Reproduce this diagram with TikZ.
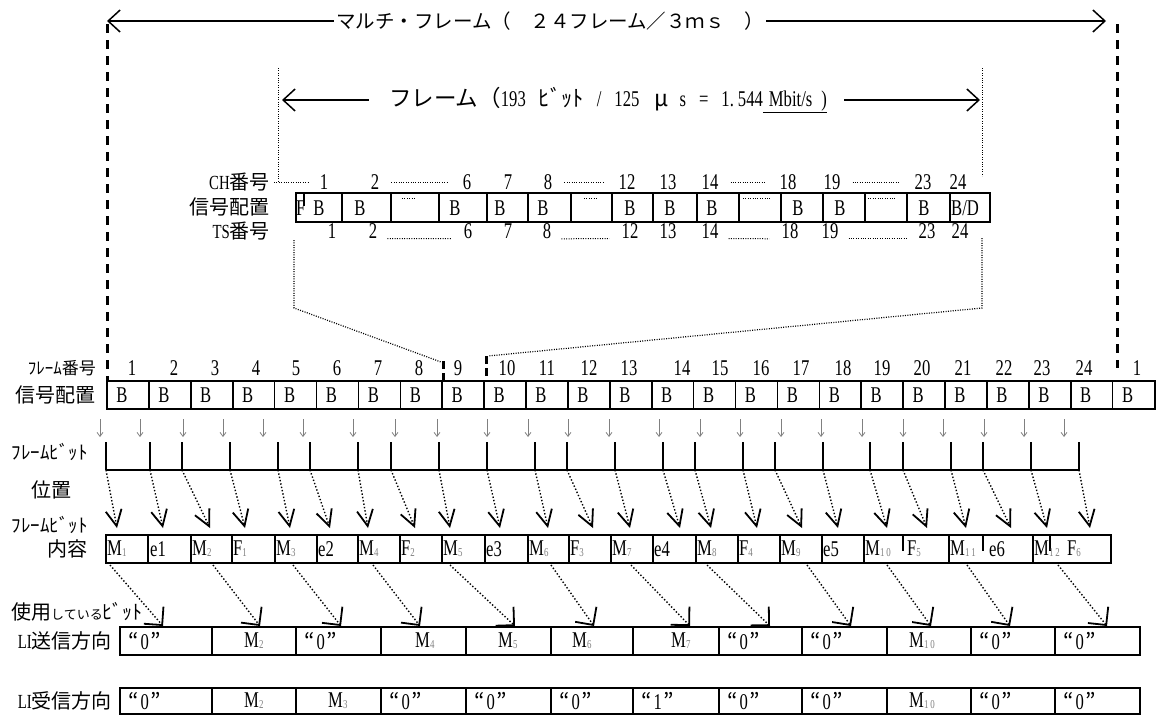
\documentclass[tikz,border=0pt]{standalone}
\usepackage{fontspec}
\setmainfont{Liberation Serif}[FakeStretch=0.74]
\newfontfamily\jp{Noto Sans CJK JP}
\usetikzlibrary{arrows.meta}
\tikzset{
  txt/.style     = {inner sep=0pt, font=\fontsize{22.5}{22.5}\selectfont},
  lab/.style     = {inner sep=0pt, font=\jp\fontsize{20}{20}\selectfont},
  sml/.style     = {inner sep=0pt, font=\jp\fontsize{17}{17}\selectfont},
  cell/.style    = {line width=1.6pt},
  fine/.style    = {line width=1pt, dash pattern=on 1pt off 1.4pt},
  bigdash/.style = {line width=3pt, dash pattern=on 9pt off 7pt},
  span/.style    = {line width=1.4pt},
  down/.style    = {gray, line width=0.8pt, -{Straight Barb[length=4pt,width=6pt]}},
  fbit/.style    = {line width=1.8pt},
  posarr/.style  = {line width=1.4pt, dash pattern=on 1.4pt off 2pt, -posV},
  usearr/.style  = {line width=1.4pt, dash pattern=on 1.4pt off 2pt, -useV},
  bigV/.tip      = {Straight Barb[length=12pt,width=22pt,line width=1.5pt]},
  posV/.tip      = {Straight Barb[length=16pt,width=16pt,line width=1.8pt]},
  useV/.tip      = {Straight Barb[length=13pt,width=26pt,line width=1.8pt]}
}
\newcommand\lo[1]{\raisebox{-1pt}{\textcolor{gray}{\fontsize{12}{12}\selectfont#1}}}
\newcommand\qz[1]{{\jp\fontsize{22}{22}\selectfont “}\hspace{2pt}#1\hspace{2pt}{\jp\fontsize{22}{22}\selectfont ”}}

\begin{document}
\begin{tikzpicture}[x=1pt, y=-1pt]
  \useasboundingbox (0,0) rectangle (1157,715);
  % multi-frame span
  \node[lab, font=\jp\fontsize{19.5}{19.5}\selectfont, inner xsep=2pt] (mf) at (550,21) {マルチ・フレーム（　２４フレーム／３ｍｓ　）};
  \coordinate (mfL) at (107,21); \coordinate (mfR) at (1106,21);
  \draw[span, -bigV] (mf.west) -- (mfL); \draw[span, -bigV] (mf.east) -- (mfR);
  \coordinate (dl0) at (107,24); \coordinate (dl1) at (107,381); \draw[bigdash] (dl0) -- (dl1);
  \coordinate (dr0) at (1117,24); \coordinate (dr1) at (1117,368); \draw[bigdash] (dr0) -- (dr1);
  % frame span
  \node[txt] (fr) at (608,100) {{\jp フレーム（}193\hspace{13pt}{\jp ﾋﾞｯﾄ}\hspace{13pt}/\hspace{13pt}125\hspace{15pt}{\jp μ}\hspace{11pt}s\hspace{13pt}=\hspace{13pt}1.\hspace{4pt}544\underline{\hspace{6pt}Mbit/s\hspace{9pt})}};
  \coordinate (frL) at (282,100); \coordinate (frR) at (980,100);
  \draw[span, -bigV, shorten <=20pt] (fr.west) -- (frL); \draw[span, -bigV, shorten <=17pt] (fr.east) -- (frR);
  \coordinate (ul0) at (278,68); \coordinate (ul1) at (278,182); \draw[fine] (ul0) -- (ul1);
  \coordinate (ur0) at (982,68); \coordinate (ur1) at (982,176); \draw[fine] (ur0) -- (ur1);

  % one frame: CH / signal / TS
  \node[lab, anchor=east] (chlab) at (270,182) {{\rmfamily CH}番号};
  \node[lab, anchor=east] (sglab) at (270,207) {信号配置};
  \node[lab, anchor=east] (tslab) at (270,231) {{\rmfamily TS}番号};
  \foreach \n/\x in {1/324,2/375,6/467,7/508,8/548,12/627,13/668,14/710,18/788,19/832,23/923,24/958}
    \node[txt] (ch\n) at (\x,182) {\n};
  \foreach \n/\x in {1/332,2/373,6/468,7/508,8/547,12/630,13/668,14/710,18/790,19/830,23/927,24/960}
    \node[txt] (ts\n) at (\x,231) {\n};
  \draw[fine, shorten <=-4pt, shorten >=12pt] (ul1) -- (ch1.west);
  \foreach \a/\b in {2/6,8/12,14/18,19/23}{
    \draw[fine, shorten <=12pt, shorten >=14pt] (ch\a.east) -- (ch\b.west);
    \draw[fine, shorten <=10pt, shorten >=12pt] (ts\a.south east) -- (ts\b.south west);
  }
  \draw[cell] (296,193) rectangle (990,222);
  \foreach \x in {342,391,439,487,528,571,612,653,697,739,781,823,865,907,950}
    \draw[cell] (\x,193) -- (\x,222);
  \draw[line width=2.4pt] (304,193) -- (304,206);
  \node[txt, anchor=west] (sF) at (296,208) {F};
  \foreach \x [count=\i] in {319,360,455,500,543,630,670,712,798,840,924}
    \node[txt] (sB\i) at (\x,208) {B};
  \node[txt, anchor=west] (sBD) at (951,208) {B/D};
  \foreach \a/\b in {402/416,584/598,743/770,868/895}
    \draw[fine] (\a,198) -- (\b,198);

  % dotted guides to the multi-frame
  \coordinate (la0) at (294,240); \coordinate (la1) at (294,308); \coordinate (la2) at (441,362);
  \coordinate (ra0) at (982,238); \coordinate (ra1) at (982,308); \coordinate (ra2) at (488,356);
  \draw[fine, line width=1.2pt] (la0) -- (la1) -- (la2);
  \draw[fine, line width=1.2pt] (ra0) -- (ra1) -- (ra2);
  \draw[bigdash, dash pattern=on 8pt off 4pt] (443,361) -- (443,381);
  \draw[bigdash, dash pattern=on 8pt off 4pt] (486,356) -- (486,381);

  % multi-frame row
  \node[sml, anchor=east] (fnlab) at (96,368) {ﾌﾚｰﾑ番号};
  \foreach \n/\x [count=\i] in {1/132,2/174,3/215,4/256,5/296,6/337,7/378,8/419,9/458,10/507,11/547,12/589,13/629,14/682,15/720,16/761,17/801,18/843,19/882,20/922,21/963,22/1004,23/1042,24/1084,1/1137}
    \node[txt] (fn\i) at (\x,368) {\n};
  \node[lab, anchor=east] (sg2lab) at (96,395) {信号配置};
  \draw[cell] (107,381) rectangle (1155,409);
  \foreach \k in {1,...,24}
    \draw[cell] ({107+41.9*\k},381) -- ({107+41.9*\k},409);
  \foreach \k in {0,...,24}
    \node[txt] (mB\k) at ({122+41.9*\k},395) {B};

  % frame bit position
  \node[sml, font=\jp\fontsize{19}{19}\selectfont, anchor=east] (fblab) at (88,452) {ﾌﾚｰﾑﾋﾞｯﾄ};
  \node[lab] (poslab) at (51,490) {位置};
  \foreach \x [count=\i] in {100,140,183,223,263,303,353,395,437,487,528,568,609,659,700,740,781,821,862,903,943,984,1024,1064}{
    \coordinate (da\i) at (\x,419); \coordinate (db\i) at (\x,437);
    \draw[down] (da\i) -- (db\i);
  }
  \foreach \x/\t [count=\i] in {106/117,150/163,182/210,230/245,278/290,310/330,358/368,391/415,439/450,487/500,535/548,567/593,615/630,663/680,695/711,743/757,775/802,823/838,870/887,903/927,951/966,983/1011,1031/1047,1079/1090}{
    \coordinate (fu\i) at (\x,442); \coordinate (fb\i) at (\x,470); \coordinate (fv\i) at (\t,528);
    \draw[fbit] (fu\i) -- (fb\i);
    \draw[posarr] (fb\i) -- (fv\i);
  }
  \draw[fbit] (fb1) -- (fb24);

  % frame bit content
  \node[sml, font=\jp\fontsize{19}{19}\selectfont, anchor=east] (fclab) at (88,525) {ﾌﾚｰﾑﾋﾞｯﾄ};
  \node[lab, anchor=east] (nylab) at (88,549) {内容};
  \draw[cell] (106,535) rectangle (1111,563);
  \foreach \x in {148,191,232,275,317,358,400,442,485,528,569,611,653,696,738,780,822,864,949,1033}
    \draw[cell] (\x,535) -- (\x,563);
  \foreach \x in {903,983,1050}
    \draw[line width=2.6pt] (\x,535) -- (\x,551);
  \foreach \x/\t [count=\i] in {107/{M\lo{1}},150/e1,192/{M\lo{2}},233/{F\lo{1}},276/{M\lo{3}},318/e2,359/{M\lo{4}},401/{F\lo{2}},443/{M\lo{5}},486/e3,529/{M\lo{6}},570/{F\lo{3}},612/{M\lo{7}},654/e4,697/{M\lo{8}},739/{F\lo{4}},781/{M\lo{9}},823/e5,865/{M\lo{1\,0}},907/{F\lo{5}},950/{M\lo{1\,1}},989/e6,1034/{M\lo{1\,2}},1067/{F\lo{6}}}
    \node[txt, anchor=west] (c\i) at (\x,549) {\t};

  % bits in use
  \node[lab, anchor=west] (uselab) at (11,612) {使用{\fontsize{13}{13}\selectfont している}ﾋﾞｯﾄ};
  \foreach \x/\t [count=\i] in {110/163,213/260,293/341,373/420,450/515,551/594,631/690,707/770,807/851,887/931,967/1010,1058/1107}{
    \coordinate (ma\i) at (\x,565); \coordinate (mb\i) at (\t,626);
    \draw[usearr] (ma\i) -- (mb\i);
  }
  \node[lab, anchor=east] (txlab) at (112,641) {{\rmfamily LI}送信方向};
  \node[lab, anchor=east] (rxlab) at (112,701) {{\rmfamily LI}受信方向};
  \draw[cell] (120,627) rectangle (1140,655);
  \draw[cell] (120,688) rectangle (1140,714);
  \foreach \x in {212,296,381,466,551,633,719,802,887,971,1055}{
    \draw[cell] (\x,627) -- (\x,655);
    \draw[cell] (\x,688) -- (\x,714);
  }
  \foreach \x/\t [count=\i] in {128/\qz{0},244/{M\lo{2}},304/\qz{0},415/{M\lo{4}},498/{M\lo{5}},572/{M\lo{6}},671/{M\lo{7}},727/\qz{0},810/\qz{0},909/{M\lo{1\,0}},979/\qz{0},1063/\qz{0}}
    \node[txt, anchor=west] (tx\i) at (\x,641) {\t};
  \foreach \x/\t [count=\i] in {128/\qz{0},244/{M\lo{2}},328/{M\lo{3}},389/\qz{0},474/\qz{0},559/\qz{0},641/\qz{1},727/\qz{0},810/\qz{0},909/{M\lo{1\,0}},979/\qz{0},1063/\qz{0}}
    \node[txt, anchor=west] (rx\i) at (\x,701) {\t};
\end{tikzpicture}
\end{document}
